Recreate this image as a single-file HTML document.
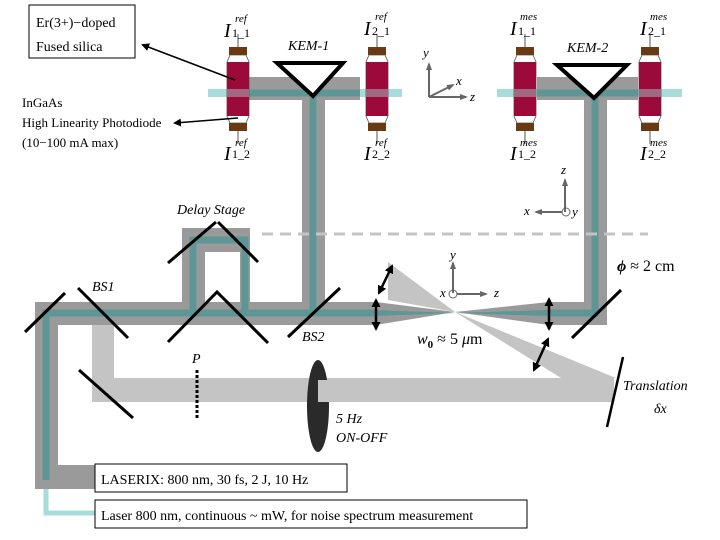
<!DOCTYPE html>
<html><head><meta charset="utf-8"><style>
body{margin:0;background:#fff}
svg{display:block}
text{font-family:"Liberation Serif",serif;fill:#000}
.i{font-style:italic}
</style></head><body>
<svg width="720" height="540" viewBox="0 0 720 540" xmlns="http://www.w3.org/2000/svg">
<defs>
<marker id="ah" markerWidth="8" markerHeight="8" refX="6" refY="4" orient="auto" markerUnits="userSpaceOnUse"><path d="M0,0 L8,4 L0,8 Z" fill="#000"/></marker>
<marker id="ga" markerWidth="8" markerHeight="8" refX="6" refY="4" orient="auto" markerUnits="userSpaceOnUse"><path d="M0,1 L8,4 L0,7 Z" fill="#666"/></marker>
<marker id="da" markerWidth="9" markerHeight="9" refX="7" refY="4.5" orient="auto-start-reverse" markerUnits="userSpaceOnUse"><path d="M0,0 L9,4.5 L0,9 Z" fill="#000"/></marker>
<g id="pd">
<line x1="0" y1="-55" x2="0" y2="-40" stroke="#555" stroke-width="1"/>
<line x1="0" y1="40" x2="0" y2="55" stroke="#555" stroke-width="1"/>
<path d="M-8,-34 L-11,-27 L-11,27 L-8,34 L8,34 L11,27 L11,-27 L8,-34 Z" fill="#fff" stroke="#555" stroke-width="0.8"/>
<rect x="-9" y="-42" width="18" height="8" fill="#6b3a12"/>
<rect x="-9" y="34" width="18" height="8" fill="#6b3a12"/>
<rect x="-11" y="-27" width="22" height="54" fill="#9b0a3a"/>
</g>
</defs>

<!-- light gray probe beam -->
<rect x="92" y="318" width="22" height="84" fill="#c4c4c4"/>
<rect x="92" y="378" width="522" height="24" fill="#c4c4c4"/>
<polygon points="388,262 388,300 455,312" fill="#c4c4c4"/>
<polygon points="455,312 616,378 561,378" fill="#c4c4c4"/>

<!-- light teal cw beam -->
<polyline points="46,320 46,513 95,513" fill="none" stroke="#a8dcdc" stroke-width="5"/>
<rect x="208" y="89" width="194" height="8" fill="#a8dcdc"/>
<rect x="497" y="89" width="185" height="8" fill="#a8dcdc"/>

<!-- main gray beams -->
<g fill="#9a9a9a">
<rect x="35" y="302" width="341" height="23"/>
<rect x="35" y="302" width="23" height="185"/>
<rect x="35" y="465" width="62" height="24"/>
<polygon points="376,302 455,312 376,325"/>
<polygon points="455,312 549,302 549,325"/>
<rect x="549" y="302" width="58" height="23"/>
<rect x="584" y="77" width="23" height="248"/>
<rect x="302" y="77" width="23" height="226"/>
<rect x="248" y="77" width="112" height="23"/>
<rect x="537" y="77" width="101" height="23"/>
<rect x="182" y="228" width="68" height="24"/>
<rect x="182" y="228" width="23" height="76"/>
<rect x="240" y="228" width="10" height="76"/>
</g>
<!-- teal core -->
<g stroke="#5e9595" stroke-width="7" fill="none">
<polyline points="46,480 46,313 376,313"/>
<polyline points="193,313 193,240 245,240 245,313"/>
<polyline points="549,313 595,313 595,93"/>
<line x1="313" y1="313" x2="313" y2="93"/>
<line x1="248" y1="93" x2="360" y2="93"/>
<line x1="537" y1="93" x2="638" y2="93"/>
</g>
<polygon points="376,310 455,313 376,316" fill="#5e9595"/>
<polygon points="455,313 549,310 549,316" fill="#5e9595"/>

<!-- dashed line -->
<line x1="262" y1="234" x2="648" y2="234" stroke="#c4c4c4" stroke-width="3" stroke-dasharray="11,7"/>

<!-- mirrors -->
<g stroke="#000" stroke-width="3" stroke-linecap="butt">
<line x1="25" y1="332" x2="65" y2="293"/>
<line x1="78" y1="288" x2="128" y2="338"/>
<line x1="79" y1="370" x2="133" y2="418"/>
<line x1="168" y1="263" x2="216" y2="222"/>
<line x1="218" y1="222" x2="258" y2="262"/>
<polyline points="168,342 217,292 268,343" fill="none"/>
<line x1="288" y1="337" x2="340" y2="288"/>
<line x1="572" y1="338" x2="621" y2="290"/>
<line x1="623" y1="357" x2="607" y2="427" stroke-width="2.5"/>
</g>
<!-- lenses -->
<g stroke="#000" stroke-width="2.5">
<line x1="376" y1="300" x2="376" y2="329" marker-start="url(#da)" marker-end="url(#da)"/>
<line x1="379" y1="293" x2="392" y2="266" marker-start="url(#da)" marker-end="url(#da)"/>
<line x1="549" y1="299" x2="549" y2="329" marker-start="url(#da)" marker-end="url(#da)"/>
<line x1="534" y1="370" x2="548" y2="339" marker-start="url(#da)" marker-end="url(#da)"/>
</g>

<!-- P polarizer -->
<line x1="197" y1="370" x2="197" y2="418" stroke="#000" stroke-width="3" stroke-dasharray="3,2"/>
<text x="192" y="363" font-size="14" class="i">P</text>

<!-- chopper -->
<ellipse cx="318" cy="406" rx="11" ry="46" fill="#2a2a2a"/>
<rect x="318" y="380" width="12" height="22" fill="#c4c4c4"/>

<!-- KEM triangles -->
<polygon points="277,63 343,63 313,96" fill="#fff" stroke="#000" stroke-width="4"/>
<polygon points="557,65 627,65 594,98" fill="#fff" stroke="#000" stroke-width="4"/>
<text x="288" y="50" font-size="14" class="i">KEM-1</text>
<text x="567" y="52" font-size="14" class="i">KEM-2</text>

<!-- photodiodes -->
<use href="#pd" transform="translate(238,89)"/>
<use href="#pd" transform="translate(377,89)"/>
<use href="#pd" transform="translate(525,89)"/>
<use href="#pd" transform="translate(650,89)"/>
<rect x="227" y="89" width="22" height="8" fill="#a8dcdc" opacity="0.45"/>
<rect x="366" y="89" width="22" height="8" fill="#a8dcdc" opacity="0.45"/>
<rect x="514" y="89" width="22" height="8" fill="#a8dcdc" opacity="0.45"/>
<rect x="639" y="89" width="22" height="8" fill="#a8dcdc" opacity="0.45"/>

<!-- I labels -->
<g font-size="20" class="i">
<text x="224" y="37" class="i">I</text><text x="232" y="37" font-size="12" font-style="normal">1_1</text><text x="235" y="22" font-size="11">ref</text>
<text x="364" y="35" class="i">I</text><text x="372" y="35" font-size="12" font-style="normal">2_1</text><text x="375" y="20" font-size="11">ref</text>
<text x="510" y="35" class="i">I</text><text x="518" y="35" font-size="12" font-style="normal">1_1</text><text x="520" y="20" font-size="11">mes</text>
<text x="640" y="35" class="i">I</text><text x="648" y="35" font-size="12" font-style="normal">2_1</text><text x="650" y="20" font-size="11">mes</text>
<text x="224" y="160" class="i">I</text><text x="232" y="158" font-size="12" font-style="normal">1_2</text><text x="235" y="146" font-size="11">ref</text>
<text x="364" y="160" class="i">I</text><text x="372" y="158" font-size="12" font-style="normal">2_2</text><text x="375" y="146" font-size="11">ref</text>
<text x="510" y="160" class="i">I</text><text x="518" y="158" font-size="12" font-style="normal">1_2</text><text x="520" y="146" font-size="11">mes</text>
<text x="640" y="160" class="i">I</text><text x="648" y="158" font-size="12" font-style="normal">2_2</text><text x="650" y="146" font-size="11">mes</text>
</g>

<!-- Er box -->
<rect x="29" y="5" width="106" height="53" fill="#fff" stroke="#000" stroke-width="1"/>
<text x="36" y="27" font-size="14">Er(3+)−doped</text>
<text x="36" y="51" font-size="14">Fused silica</text>
<line x1="235" y1="80" x2="143" y2="45" stroke="#000" stroke-width="1.5" marker-end="url(#ah)"/>
<line x1="238" y1="118" x2="175" y2="123" stroke="#000" stroke-width="1.5" marker-end="url(#ah)"/>
<text x="22" y="107" font-size="13">InGaAs</text>
<text x="22" y="127" font-size="13">High Linearity Photodiode</text>
<text x="22" y="147" font-size="13">(10−100 mA max)</text>

<!-- coordinate systems -->
<g stroke="#666" stroke-width="2" fill="none">
<line x1="429" y1="97" x2="429" y2="64" marker-end="url(#ga)"/>
<line x1="429" y1="97" x2="466" y2="97" marker-end="url(#ga)"/>
<line x1="429" y1="97" x2="453" y2="85" marker-end="url(#ga)"/>
<line x1="565" y1="212" x2="565" y2="180" marker-end="url(#ga)"/>
<line x1="562" y1="212" x2="536" y2="212" marker-end="url(#ga)"/>
<circle cx="566" cy="212" r="4" stroke-width="1"/>
<line x1="453" y1="293" x2="453" y2="263" marker-end="url(#ga)"/>
<line x1="457" y1="294" x2="486" y2="294" marker-end="url(#ga)"/>
<circle cx="453" cy="294" r="4" stroke-width="1"/>
</g>
<g font-size="13" class="i">
<text x="423" y="57" class="i">y</text><text x="456" y="85" class="i">x</text><text x="470" y="101" class="i">z</text>
<text x="561" y="174" class="i">z</text><text x="524" y="215" class="i">x</text><text x="572" y="216" class="i">y</text>
<text x="450" y="259" class="i">y</text><text x="440" y="297" class="i">x</text><text x="494" y="297" class="i">z</text>
</g>

<!-- labels -->
<text x="177" y="214" font-size="14" class="i">Delay Stage</text>
<text x="92" y="291" font-size="14" class="i">BS1</text>
<text x="302" y="341" font-size="14" class="i">BS2</text>
<text x="417" y="344" font-size="16"><tspan font-style="italic">w</tspan><tspan font-size="11" dy="4" font-weight="bold">0</tspan><tspan dy="-4"> ≈ 5 </tspan><tspan font-style="italic">μ</tspan>m</text>
<text x="617" y="271" font-size="16"><tspan font-style="italic" font-weight="bold">ϕ</tspan> ≈ 2 cm</text>
<text x="623" y="390" font-size="14" class="i">Translation</text>
<text x="654" y="413" font-size="14" class="i">δx</text>
<text x="336" y="423" font-size="14" class="i">5 Hz</text>
<text x="336" y="442" font-size="14" class="i">ON-OFF</text>

<!-- laser boxes -->
<rect x="95" y="464" width="252" height="28" fill="#fff" stroke="#000" stroke-width="1"/>
<text x="101" y="484" font-size="14">LASERIX: 800 nm, 30 fs, 2 J, 10 Hz</text>
<rect x="95" y="500" width="432" height="28" fill="#fff" stroke="#000" stroke-width="1"/>
<text x="101" y="520" font-size="14">Laser 800 nm, continuous ~ mW, for noise spectrum measurement</text>
</svg>
</body></html>
